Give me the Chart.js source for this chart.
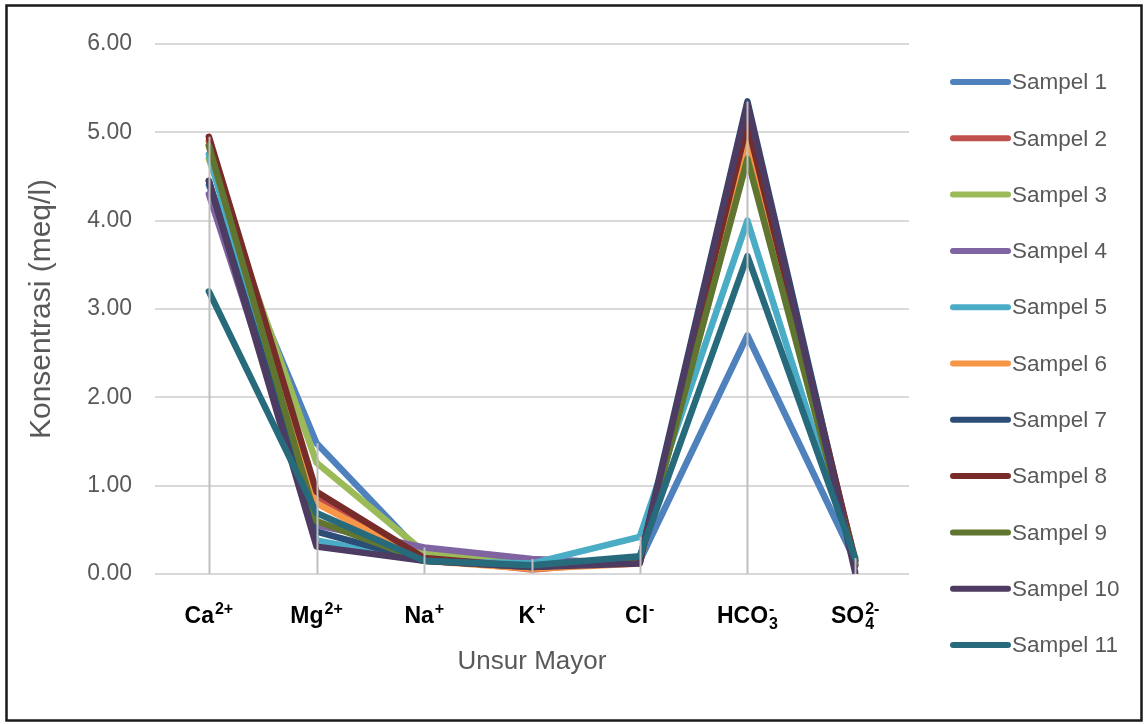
<!DOCTYPE html>
<html>
<head>
<meta charset="utf-8">
<script src="https://cdn.jsdelivr.net/npm/chart.js@4.4.1/dist/chart.umd.min.js"></script>
<style>
  html, body { margin: 0; padding: 0; background: #fff; }
  #wrap { position: relative; width: 1144px; height: 724px; }
</style>
</head>
<body>
<div id="wrap"><canvas id="chart" width="1144" height="724"></canvas></div>
<script>
// Major ions (x axis), drawn with sub/superscripts by the label plugin below
const categories = ['Ca2+', 'Mg2+', 'Na+', 'K+', 'Cl-', 'HCO3-', 'SO42-'];
const categoryParts = [
  [['Ca', 'n'], ['2+', 'sup']],
  [['Mg', 'n'], ['2+', 'sup']],
  [['Na', 'n'], ['+', 'sup']],
  [['K', 'n'], ['+', 'sup']],
  [['Cl', 'n'], ['-', 'sup']],
  [['HCO', 'n'], ['3', 'sub'], ['-', 'sup']],
  [['SO', 'n'], ['4', 'sub'], ['2-', 'sup']]
];

// Concentrations in meq/l
const sampel1  = [4.40, 1.48, 0.20, 0.10, 0.15, 2.70, 0.15];
const sampel2  = [4.90, 0.88, 0.18, 0.05, 0.15, 5.05, 0.10];
const sampel3  = [4.70, 1.26, 0.25, 0.10, 0.15, 4.72, 0.18];
const sampel4  = [4.30, 0.55, 0.30, 0.17, 0.12, 5.20, 0.15];
const sampel5  = [4.75, 0.38, 0.15, 0.12, 0.42, 4.00, 0.12];
const sampel6  = [4.85, 0.80, 0.15, 0.06, 0.12, 4.95, 0.10];
const sampel7  = [4.45, 0.48, 0.15, 0.08, 0.15, 5.35, 0.10];
const sampel8  = [4.95, 0.93, 0.18, 0.08, 0.15, 5.10, 0.15];
const sampel9  = [4.85, 0.60, 0.15, 0.08, 0.15, 4.70, 0.12];
const sampel10 = [4.45, 0.31, 0.15, 0.08, 0.12, 5.32, 0.02];
const sampel11 = [3.20, 0.69, 0.15, 0.10, 0.20, 3.60, 0.18];

const seriesNames = ['Sampel 1', 'Sampel 2', 'Sampel 3', 'Sampel 4', 'Sampel 5', 'Sampel 6',
                     'Sampel 7', 'Sampel 8', 'Sampel 9', 'Sampel 10', 'Sampel 11'];
const seriesValues = [sampel1, sampel2, sampel3, sampel4, sampel5, sampel6,
                      sampel7, sampel8, sampel9, sampel10, sampel11];
const seriesColors = ['#4F81BD', '#C0504D', '#9BBB59', '#8064A2', '#4BACC6', '#F79646',
                      '#2C4D75', '#772C2A', '#5F7530', '#4D3B62', '#276A7C'];

const yTicks = [0, 1, 2, 3, 4, 5, 6];
const yTitle = 'Konsentrasi (meq/l)';
const xTitle = 'Unsur Mayor';

const textFont = '"Liberation Sans", Arial, sans-serif';
const textGrey = '#595959';

// Grey drop lines from each category's highest value down to zero
const dropLines = {
  id: 'dropLines',
  afterDatasetsDraw(chart) {
    const ctx = chart.ctx, x = chart.scales.x, y = chart.scales.y;
    ctx.save();
    ctx.strokeStyle = '#BFBFBF';
    ctx.lineWidth = 2;
    categories.forEach((c, i) => {
      const top = Math.max(...chart.data.datasets.map(d => d.data[i]));
      const px = Math.round(x.getPixelForValue(i)) + 0.5;
      ctx.beginPath();
      ctx.moveTo(px, y.getPixelForValue(top));
      ctx.lineTo(px, y.getPixelForValue(0));
      ctx.stroke();
    });
    ctx.restore();
  }
};

// Category labels with chemical sub/superscripts, axis titles, legend and frame
const decorations = {
  id: 'decorations',
  afterDraw(chart) {
    const ctx = chart.ctx, x = chart.scales.x, y = chart.scales.y;
    ctx.save();

    // category labels
    const base = 'bold 23px "Liberation Sans", Arial, sans-serif';
    const small = 'bold 16px "Liberation Sans", Arial, sans-serif';
    const baseY = 623;
    categoryParts.forEach((parts, i) => {
      const widths = parts.map(([t, k]) => {
        ctx.font = k === 'n' ? base : small;
        return ctx.measureText(t).width;
      });
      // sub and sup share one column after the base text
      let total = 0, col = 0;
      parts.forEach(([t, k], j) => {
        if (k === 'n') total += widths[j];
        else col = Math.max(col, widths[j]);
      });
      total += col + 1;
      let cx = x.getPixelForValue(i) - total / 2;
      ctx.fillStyle = '#000';
      ctx.textBaseline = 'alphabetic';
      ctx.textAlign = 'left';
      let scriptX = cx;
      parts.forEach(([t, k], j) => {
        if (k === 'n') {
          ctx.font = base;
          ctx.fillText(t, cx, baseY);
          cx += widths[j];
          scriptX = cx + 1;
        } else {
          ctx.font = small;
          ctx.fillText(t, scriptX, k === 'sup' ? baseY - 9 : baseY + 6);
        }
      });
    });

    // axis titles
    ctx.fillStyle = textGrey;
    ctx.textAlign = 'center';
    ctx.textBaseline = 'middle';
    ctx.font = '26px ' + textFont;
    ctx.fillText(xTitle, (x.left + x.right) / 2, 662);
    ctx.save();
    ctx.font = '30px ' + textFont;
    ctx.translate(42, (y.top + y.bottom) / 2);
    ctx.rotate(-Math.PI / 2);
    ctx.fillText(yTitle, 0, 0);
    ctx.restore();

    // legend
    ctx.font = '22.5px ' + textFont;
    ctx.textAlign = 'left';
    ctx.textBaseline = 'middle';
    ctx.lineCap = 'round';
    ctx.lineWidth = 6;
    chart.data.datasets.forEach((d, i) => {
      const ly = 82 + i * 56.3;
      ctx.strokeStyle = d.borderColor;
      ctx.beginPath();
      ctx.moveTo(953, ly);
      ctx.lineTo(1008, ly);
      ctx.stroke();
      ctx.fillStyle = textGrey;
      ctx.fillText(d.label, 1012, ly + 1);
    });

    // outer frame
    ctx.strokeStyle = '#1A1A1A';
    ctx.lineWidth = 2.5;
    ctx.strokeRect(6.5, 5.5, 1135, 715);
    ctx.restore();
  }
};

new Chart(document.getElementById('chart'), {
  type: 'line',
  data: {
    labels: categories,
    datasets: seriesNames.map((name, i) => ({
      label: name,
      data: seriesValues[i],
      borderColor: seriesColors[i],
      backgroundColor: seriesColors[i],
      borderWidth: 6.5,
      pointRadius: 0,
      tension: 0,
      borderJoinStyle: 'round',
      borderCapStyle: 'round',
      order: seriesNames.length - i
    }))
  },
  options: {
    responsive: false,
    animation: false,
    events: [],
    layout: { padding: { left: 0, top: 44, right: 235, bottom: 0 } },
    plugins: { legend: { display: false }, tooltip: { enabled: false } },
    scales: {
      x: {
        offset: true,
        grid: { display: false, drawTicks: false },
        border: { display: false },
        ticks: { display: false },
        afterFit(s) { s.height = 150; }
      },
      y: {
        min: 0,
        max: 6,
        afterBuildTicks(s) { s.ticks = yTicks.map(v => ({ value: v })); },
        grid: { color: '#D9D9D9', lineWidth: 2, drawTicks: false },
        border: { display: false },
        ticks: {
          padding: 23,
          color: textGrey,
          font: { family: textFont, size: 23 },
          callback: v => v.toFixed(2)
        },
        afterFit(s) { s.width = 155; }
      }
    }
  },
  plugins: [dropLines, decorations]
});
</script>
</body>
</html>
